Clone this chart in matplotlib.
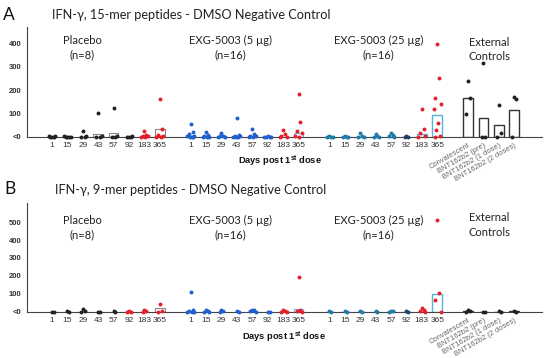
import numpy as np
import matplotlib
matplotlib.use("Agg")
import matplotlib.pyplot as plt

plt.rcParams['mathtext.fontset'] = 'custom'
plt.rcParams['mathtext.bf'] = 'Liberation Sans:bold'
plt.rcParams['mathtext.rm'] = 'Liberation Sans'

# ---------------- data ----------------
days = ["1", "15", "29", "43", "57", "92", "183", "365"]
external = ["Convalescent", "BNT162b2 (pre)", "BNT162b2 (1 dose)", "BNT162b2 (2 doses)"]
groups = ["Placebo\n(n=8)", "EXG-5003 (5 µg)\n(n=16)", "EXG-5003 (25 µg)\n(n=16)", "External\nControls"]

# Panel A (15-mer) individual values per day
A_placebo = [[0, 0, 0, 2, 3], [0, 0, 0, 0, 2], [24, 0, 0, 3], [100, 0, 0, 5],
             [124, 0, 0, 4], [0, 0, 0, 2], [24, 8, 5, 2, 0, 0], [163, 33, 8, 3, 0, 0]]
A_5ug = [[53, 19, 10, 5, 2, 0, 0, 0], [20, 8, 3, 0, 0, 0], [15, 5, 2, 0, 0],
         [79, 8, 5, 3, 0, 0, 0], [33, 10, 5, 2, 0, 0], [2, 0, 0, 0, 0],
         [29, 10, 5, 0, 0], [183, 63, 24, 17, 5, 0]]
A_25ug = [[3, 0, 0, 0], [2, 0, 0, 0], [15, 5, 0, 0], [12, 5, 0, 0], [15, 8, 5, 0],
          [3, 0, 0], [120, 32, 17, 5, 0], [396, 250, 164, 139, 117, 60, 29, 5, 0]]
A_ext = [[239, 167, 96], [314, 0, 0], [136, 15, 0], [169, 163, 0]]
A_bar_placebo = [0, 0, 0, 13, 14, 0, 4, 33]
A_bar_5ug = [0, 0, 0, 0, 0, 0, 0, 15]
A_bar_25ug = [0, 0, 0, 0, 0, 0, 10, 93]
A_bar_ext = [167, 79, 50, 114]

# Panel B (9-mer)
B_placebo = [[0, 0], [2, 0], [15, 3, 0], [0, 0], [2, 0], [3, 0, 0], [12, 5, 0], [41, 5, 0]]
B_5ug = [[112, 8, 3, 0, 0, 0], [12, 5, 0, 0], [8, 3, 0], [3, 0], [12, 8, 3, 0],
         [0, 0], [8, 3, 0, 0], [196, 10, 5, 0]]
B_25ug = [[3, 0], [3, 0], [5, 0], [2, 0], [5, 3, 0], [3, 0], [22, 10, 3, 0], [512, 106, 65, 0]]
B_ext = [[8, 2, 0], [0, 0], [3, 0], [2, 0]]
B_bar_placebo = [0, 0, 0, 0, 0, 0, 0, 18]
B_bar_5ug = [0, 0, 0, 0, 0, 0, 0, 15]
B_bar_25ug = [0, 0, 0, 0, 0, 0, 0, 100]
B_bar_ext = [4, 1, 1, 2]

# ---------------- styling ----------------
W, H = 550, 358
fig = plt.figure(figsize=(5.5, 3.58), dpi=100)

def fx(x):
    return x / W

def fy(y):
    return 1 - y / H

BLACK = '#222222'
RED = '#e3202b'
BLUE = '#2160cc'
TEAL = '#1f7aa8'
NAVY = '#23406e'
TITLE_FONT = 'Lato'
TICK_FONT = 'Liberation Sans'

pos_placebo = np.arange(0, 8)
pos_5 = np.arange(9, 17)
pos_25 = np.arange(18, 26)
pos_ext = np.arange(27, 31)


def offsets(n):
    pattern = [0, 0.12, -0.12, 0.22, -0.22, 0.06, -0.06, 0.17, -0.17, 0.26]
    return np.array(pattern[:n])


def draw_points(ax, pos, vals, colors):
    for p, v, c in zip(pos, vals, colors):
        ax.scatter(p + offsets(len(v)), v, s=8, color=c, marker='o', lw=0,
                   zorder=4, clip_on=False)


def draw_panel(ax, ymax, yticks, placebo, g5, g25, ext, bp, b5, b25, bext,
               placebo_colors):
    ax.set_xlim(-1.62, 31.8)
    ax.set_ylim(0, ymax)
    barw = 0.62
    ax.bar(pos_placebo, bp, width=barw, facecolor='white', edgecolor='#8a8a8a',
           lw=0.8, zorder=2)
    ax.bar(pos_5, b5, width=barw, facecolor='white', edgecolor='#7fa8e8',
           lw=0.8, zorder=2)
    ax.bar(pos_25, b25, width=barw, facecolor='white', edgecolor='#55b4d8',
           lw=1.0, zorder=2)
    ax.bar(pos_ext, bext, width=barw, facecolor='white', edgecolor='#333333',
           lw=1.0, zorder=2)
    draw_points(ax, pos_placebo, placebo, placebo_colors)
    draw_points(ax, pos_5, g5, [BLUE] * 6 + [RED] * 2)
    draw_points(ax, pos_25, g25, [TEAL] * 5 + [NAVY] + [RED] * 2)
    draw_points(ax, pos_ext, ext, [BLACK] * 4)

    for s in ['top', 'right']:
        ax.spines[s].set_visible(False)
    for s in ['left', 'bottom']:
        ax.spines[s].set_color('#444444')
        ax.spines[s].set_linewidth(0.8)
    ax.spines['bottom'].set_zorder(3)
    ax.set_yticks(yticks)
    ax.set_yticklabels(['<0'] + [str(t) for t in yticks[1:]],
                       fontfamily=TICK_FONT, fontsize=5.5, fontweight='bold',
                       color='#333333')
    ax.tick_params(axis='y', length=0, pad=4)
    xt = list(pos_placebo) + list(pos_5) + list(pos_25) + list(pos_ext)
    xl = days * 3 + external
    ax.set_xticks(xt)
    ax.set_xticklabels(xl, fontfamily=TICK_FONT, fontsize=6, color='#333333')
    ax.tick_params(axis='x', length=0, pad=4)
    for lbl in ax.get_xticklabels()[-4:]:
        lbl.set_rotation(30)
        lbl.set_ha('right')
        lbl.set_va('top')
        lbl.set_rotation_mode('anchor')
        lbl.set_fontsize(5.4)
        lbl.set_color('#666666')


# Panel A
axA = fig.add_axes([fx(27), fy(136.7), fx(542) - fx(27), (136.7 - 27) / H])
draw_panel(axA, 470, [0, 100, 200, 300, 400], A_placebo, A_5ug, A_25ug, A_ext,
           A_bar_placebo, A_bar_5ug, A_bar_25ug, A_bar_ext,
           [BLACK] * 6 + [RED] * 2)
# Panel B
axB = fig.add_axes([fx(27), fy(311.7), fx(542) - fx(27), (311.7 - 203.3) / H])
draw_panel(axB, 605, [0, 100, 200, 300, 400, 500], B_placebo, B_5ug, B_25ug, B_ext,
           B_bar_placebo, B_bar_5ug, B_bar_25ug, B_bar_ext,
           [BLACK] * 5 + [RED] * 3)

# group labels
grp_x = [1.95, 11.6, 21.2, 28.4]
for ax, ys in [(axA, [383, 383, 383, 372]), (axB, [470, 470, 470, 484])]:
    for gx, gy, g in zip(grp_x, ys, groups):
        ax.text(gx, gy, g, ha='center', va='center', fontsize=8.0,
                fontfamily=TITLE_FONT, color='#222222', linespacing=1.35)

# titles and letters
fig.text(fx(52), fy(15), "IFN-γ, 15-mer peptides - DMSO Negative Control",
         fontsize=9.2, fontfamily=TITLE_FONT, color='#222222', va='center', ha='left')
fig.text(fx(55), fy(190), "IFN-γ, 9-mer peptides - DMSO Negative Control",
         fontsize=9.2, fontfamily=TITLE_FONT, color='#222222', va='center', ha='left')
fig.text(fx(3), fy(15), "A", fontsize=12.5, fontfamily=TITLE_FONT, color='#111111',
         va='center', ha='left')
fig.text(fx(4), fy(189), "B", fontsize=12.5, fontfamily=TITLE_FONT, color='#111111',
         va='center', ha='left')

# x labels
xlab = r"Days post 1$^{\mathbf{st}}$ dose"
fig.text(fx(280), fy(161), xlab, fontsize=6.7, fontweight='bold',
         fontfamily=TICK_FONT, ha='center', va='center', color='#111111')
fig.text(fx(284), fy(337), xlab, fontsize=6.7, fontweight='bold',
         fontfamily=TICK_FONT, ha='center', va='center', color='#111111')

fig.savefig("out.png", dpi=100, facecolor='white')
